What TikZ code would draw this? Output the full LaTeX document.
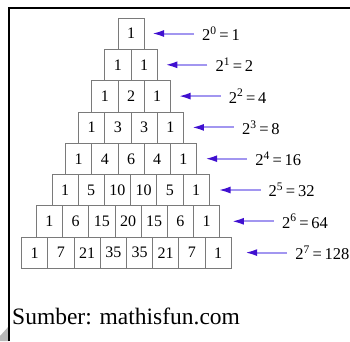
\documentclass[tikz,border=0pt]{standalone}
\usepackage{fontspec}
\setmainfont{Liberation Serif}
\usepackage{tikz}
\usetikzlibrary{arrows.meta, positioning, calc}
\definecolor{cellgray}{HTML}{7A7A7A}
\definecolor{arrowline}{HTML}{A296F0}
\definecolor{arrowtip}{HTML}{4010D0}
\definecolor{shadowgray}{HTML}{B8B8B8}

\begin{document}
\begin{tikzpicture}[x=1pt, y=-1pt,
    cell/.style={draw=cellgray, line width=0.8pt, fill=white, inner sep=0pt,
                 minimum width=26.2pt, minimum height=31.3pt,
                 font=\fontsize{16}{16}\selectfont},
    powlbl/.style={anchor=west, inner sep=0pt, font=\fontsize{16.5}{16.5}\selectfont},
    arr/.style={draw=arrowline, line width=2pt, shorten <=8pt,
                -{Latex[length=12pt, width=7pt, color=arrowtip]}}]
  \useasboundingbox (0,0) rectangle (350,341);
  % frame and page shadow
  \fill[shadowgray] (0,341) -- (0,336) -- (9,326) -- (9,341) -- cycle;
  \draw[line width=1.8pt] (350,8) -- (9,8) -- (9,341);
  % pyramid rows
  \foreach \r/\cx/\pw/\vals in {
    0/131/1/{1}, 1/131/2/{1,1}, 2/131/4/{1,2,1}, 3/131/8/{1,3,3,1},
    4/131/16/{1,4,6,4,1}, 5/130.5/32/{1,5,10,10,5,1},
    6/128/64/{1,6,15,20,15,6,1}, 7/126.4/128/{1,7,21,35,35,21,7,1}} {
    \foreach \v [count=\k from 0] in \vals {
      \node[cell] (c\r-\k) at ({\cx-(\r+1)*13.1+(\k+0.5)*26.2}, {33.65+31.3*\r}) {\v};
    }
    \coordinate (t\r) at ({152+13.3*\r}, {33.5+31.3*\r});
    \node[powlbl] (p\r) at ({202+13.3*\r}, {33.5+31.3*\r})
      {2\textsuperscript{\r}\,=\,\pw};
    \draw[arr] (p\r.west) -- (t\r);
  }
  % source line
  \node[anchor=base west, inner sep=0pt, font=\fontsize{23.5}{23.5}\selectfont]
    (src) at (12,324) {Sumber: mathisfun.com};
\end{tikzpicture}
\end{document}
